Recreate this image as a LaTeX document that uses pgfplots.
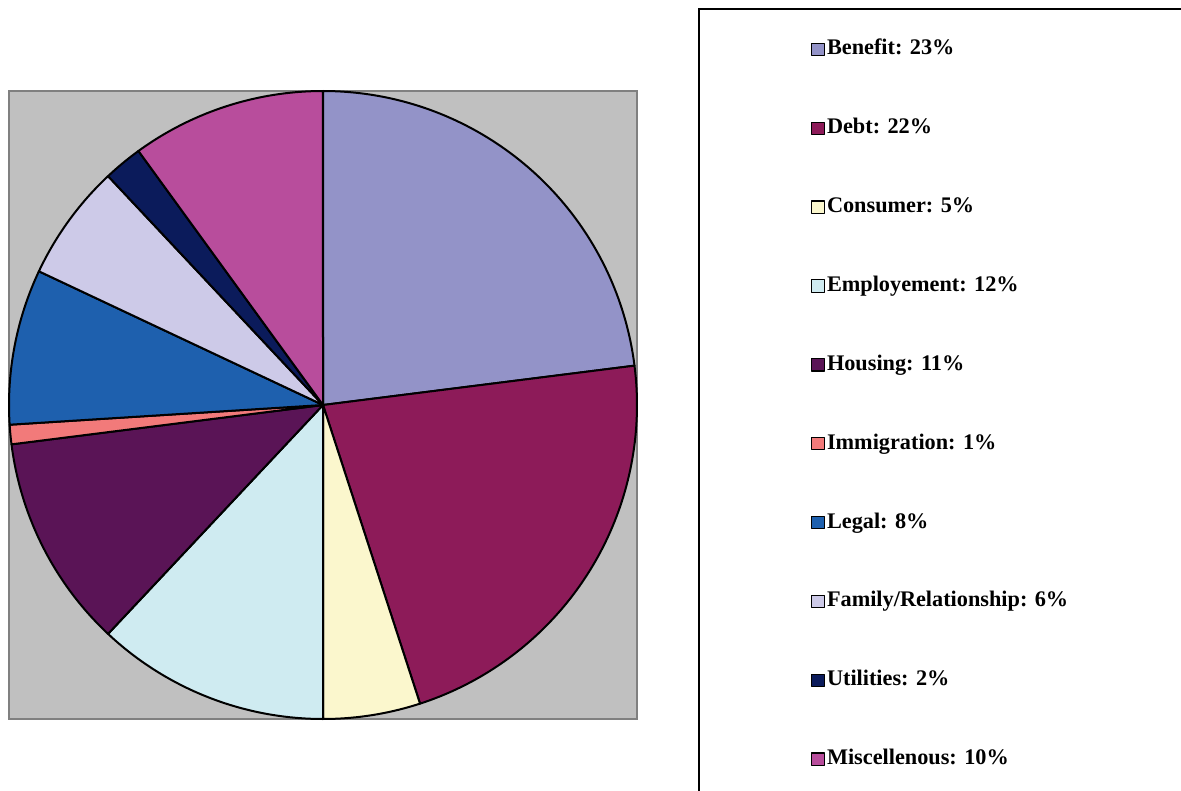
\documentclass[border=0pt]{standalone}
\usepackage{pgfplots}
\pgfplotsset{compat=1.18}
\usepackage{fontspec}
\setmainfont{Liberation Serif}
\definecolor{cBenefit}{HTML}{9393C8}
\definecolor{cDebt}{HTML}{8D1B59}
\definecolor{cConsumer}{HTML}{FBF7CD}
\definecolor{cEmploy}{HTML}{CFEBF1}
\definecolor{cHousing}{HTML}{5A1456}
\definecolor{cImmig}{HTML}{F27A7A}
\definecolor{cLegal}{HTML}{1E60AE}
\definecolor{cFamily}{HTML}{CDCAE8}
\definecolor{cUtil}{HTML}{0B1B5B}
\definecolor{cMisc}{HTML}{B84D9C}
\definecolor{bgGray}{HTML}{C0C0C0}
\definecolor{bdGray}{HTML}{808080}
% slice: #1 cumulative start (percent), #2 cumulative end (percent), #3 colour, #4 legend text
\newcommand\slice[4]{%
  \addplot[draw=black, line width=1.5pt, line join=round, fill=#3,
    domain=#1:#2, samples=80, variable=\t]
    ({cos(90-3.6*\t)},{sin(90-3.6*\t)}) -- (axis cs:0,0) -- cycle;
  \addlegendentry{#4}%
}
\begin{document}
\begin{tikzpicture}[x=0.75pt,y=0.75pt]
\useasboundingbox (0,0) rectangle (1181,790);
\clip (0,0) rectangle (1181,790);
\fill[white] (0,0) rectangle (1181,790);
\draw[black, line width=1pt] (699,781) rectangle (1300,-20);
\begin{axis}[
  at={(6.75pt,53.25pt)}, anchor=south west,
  width=471pt, height=471pt, scale only axis,
  xmin=-1, xmax=1, ymin=-1, ymax=1,
  xtick=\empty, ytick=\empty,
  axis background/.style={fill=bgGray},
  axis line style={draw=bdGray, line width=2pt},
  clip=false,
  legend style={draw=none, fill=none,
    at={(axis description cs:1.2707,1.0876)}, anchor=north west,
    row sep=43.4pt,
    font=\bfseries\fontsize{16.7}{20}\selectfont,
    nodes={inner sep=0pt, text height=12pt, text depth=3.75pt}},
  legend cell align=left,
  legend image code/.code={%
    \draw[#1, line width=0.9pt] (0pt,-4.6pt) rectangle (9.2pt,4.6pt);
    \path (10.6pt,0pt);},
]
\slice{0}{23}{cBenefit}{Benefit: 23\%}
\slice{23}{45}{cDebt}{Debt: 22\%}
\slice{45}{50}{cConsumer}{Consumer: 5\%}
\slice{50}{62}{cEmploy}{Employement: 12\%}
\slice{62}{73}{cHousing}{Housing: 11\%}
\slice{73}{74}{cImmig}{Immigration: 1\%}
\slice{74}{82}{cLegal}{Legal: 8\%}
\slice{82}{88}{cFamily}{Family/Relationship: 6\%}
\slice{88}{90}{cUtil}{Utilities: 2\%}
\slice{90}{100}{cMisc}{Miscellenous: 10\%}
\end{axis}
\end{tikzpicture}
\end{document}
